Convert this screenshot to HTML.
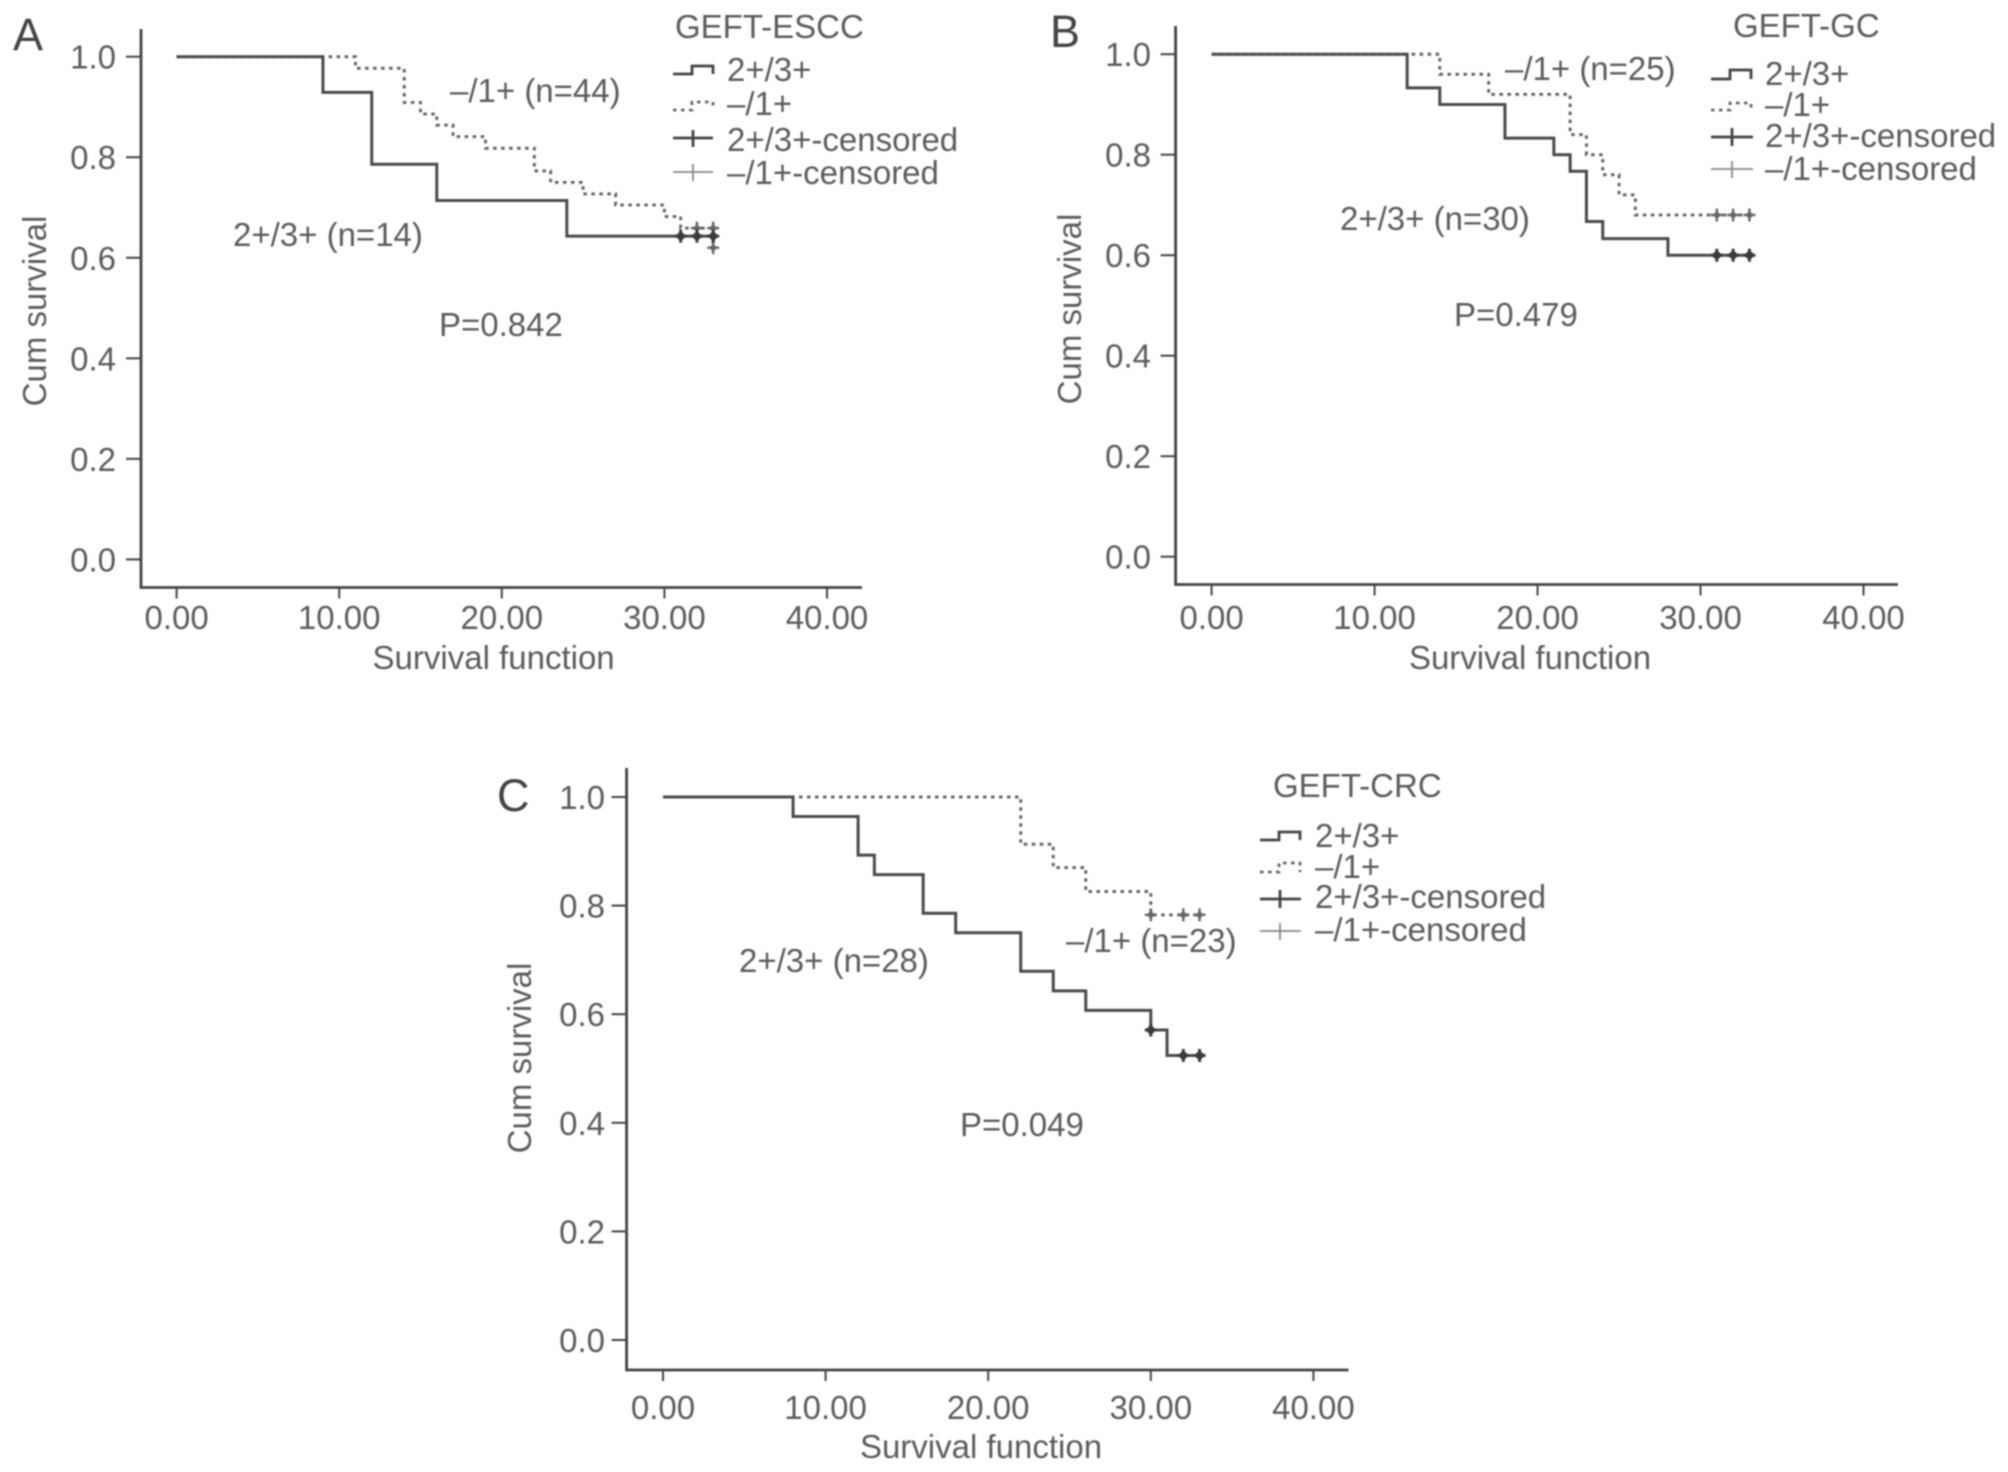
<!DOCTYPE html>
<html lang="en">
<head>
<meta charset="utf-8">
<title>GEFT survival curves</title>
<style>
html,body{margin:0;padding:0;background:#fff;}
svg{display:block;filter:blur(0.7px);}
text{font-family:"Liberation Sans",sans-serif;font-size:33px;fill:#5c5c5c;}
.letter{font-size:45px;fill:#444;}
.sym{fill:none;stroke:#444;stroke-width:2.8;}
.symd{fill:none;stroke:#666;stroke-width:2.8;stroke-dasharray:3.5 4.5;}
.syml{fill:none;stroke:#888;stroke-width:1.8;}
</style>
</head>
<body>
<svg id="fig" width="2008" height="1472" viewBox="0 0 2008 1472" xmlns="http://www.w3.org/2000/svg">
<rect width="2008" height="1472" fill="#fff"/>

<g id="panel-a">
  <text class="letter" x="13" y="50">A</text>
  <text x="493.6" y="669" text-anchor="middle">Survival function</text>
  <text transform="translate(46,311) rotate(-90)" text-anchor="middle">Cum survival</text>
  <text x="450" y="102">–/1+ (n=44)</text>
  <text x="233" y="246">2+/3+ (n=14)</text>
  <text x="439" y="336">P=0.842</text>
  <g>
    <text x="675" y="38">GEFT-ESCC</text>
    <path class="sym" d="M673 74H692V66H713V74"/>
    <text x="727" y="81">2+/3+</text>
    <path class="symd" d="M673 110H692V102H713V110"/>
    <text x="727" y="115">–/1+</text>
    <path class="sym" d="M673 138H713M693 130V147"/>
    <text x="727" y="151">2+/3+-censored</text>
    <path class="syml" d="M673 172H713M693 164V181"/>
    <text x="727" y="184">–/1+-censored</text>
  </g>
</g>

<g id="panel-b">
  <text class="letter" x="1050" y="47">B</text>
  <text x="1530" y="669" text-anchor="middle">Survival function</text>
  <text transform="translate(1081,309) rotate(-90)" text-anchor="middle">Cum survival</text>
  <text x="1505" y="80">–/1+ (n=25)</text>
  <text x="1340" y="230">2+/3+ (n=30)</text>
  <text x="1454" y="326">P=0.479</text>
  <g>
    <text x="1733" y="37">GEFT-GC</text>
    <path class="sym" d="M1711 79H1730V70H1751V79"/>
    <text x="1765" y="85">2+/3+</text>
    <path class="symd" d="M1711 110H1730V103H1751V110"/>
    <text x="1765" y="116">–/1+</text>
    <path class="sym" d="M1711 137H1753M1732 128V146"/>
    <text x="1765" y="147">2+/3+-censored</text>
    <path class="syml" d="M1711 169H1753M1732 161V178"/>
    <text x="1765" y="180">–/1+-censored</text>
  </g>
</g>

<g id="panel-c">
  <text class="letter" x="497" y="811">C</text>
  <text x="981" y="1458" text-anchor="middle">Survival function</text>
  <text transform="translate(531,1058) rotate(-90)" text-anchor="middle">Cum survival</text>
  <text x="1066" y="952">–/1+ (n=23)</text>
  <text x="739" y="972">2+/3+ (n=28)</text>
  <text x="960" y="1136">P=0.049</text>
  <g>
    <text x="1273" y="797">GEFT-CRC</text>
    <path class="sym" d="M1260 840H1279V832H1300V840"/>
    <text x="1315" y="847">2+/3+</text>
    <path class="symd" d="M1260 872H1279V863H1300V872"/>
    <text x="1315" y="878">–/1+</text>
    <path class="sym" d="M1260 899H1301M1280 890V908"/>
    <text x="1315" y="908">2+/3+-censored</text>
    <path class="syml" d="M1260 931H1301M1280 923V940"/>
    <text x="1315" y="941">–/1+-censored</text>
  </g>
</g>
</svg>

<script>
const xTickValues = [0, 10, 20, 30, 40];
const xTickLabels = ['0.00', '10.00', '20.00', '30.00', '40.00'];
const yTickValues = [0, 0.2, 0.4, 0.6, 0.8, 1.0];
const yTickLabels = ['0.0', '0.2', '0.4', '0.6', '0.8', '1.0'];

const esccHighTimes = [0, 9, 12, 16, 24, 33];
const esccHighSurvival = [1, 0.929, 0.786, 0.714, 0.643, 0.643];
const esccHighCensorTimes = [31, 32, 33];
const esccHighCensorSurvival = [0.643, 0.643, 0.643];
const esccLowTimes = [0, 11, 14, 15, 16, 17, 19, 22, 23, 25, 27, 30, 31, 33];
const esccLowSurvival = [1, 0.977, 0.909, 0.886, 0.864, 0.841, 0.818, 0.773, 0.75, 0.727, 0.705, 0.682, 0.659, 0.62];
const esccLowCensorTimes = [32, 33, 33];
const esccLowCensorSurvival = [0.659, 0.659, 0.62];

const gcHighTimes = [0, 12, 14, 18, 21, 22, 23, 24, 28, 33];
const gcHighSurvival = [1, 0.933, 0.9, 0.833, 0.8, 0.767, 0.667, 0.633, 0.6, 0.6];
const gcHighCensorTimes = [31, 32, 33];
const gcHighCensorSurvival = [0.6, 0.6, 0.6];
const gcLowTimes = [0, 14, 17, 22, 23, 24, 25, 26, 33];
const gcLowSurvival = [1, 0.96, 0.92, 0.84, 0.8, 0.76, 0.72, 0.68, 0.68];
const gcLowCensorTimes = [31, 32, 33];
const gcLowCensorSurvival = [0.68, 0.68, 0.68];

const crcHighTimes = [0, 8, 12, 13, 16, 18, 22, 24, 26, 30, 31, 33];
const crcHighSurvival = [1, 0.964, 0.893, 0.857, 0.786, 0.75, 0.679, 0.643, 0.607, 0.571, 0.524, 0.524];
const crcHighCensorTimes = [30, 32, 33];
const crcHighCensorSurvival = [0.571, 0.524, 0.524];
const crcLowTimes = [0, 22, 24, 26, 30, 33];
const crcLowSurvival = [1, 0.913, 0.87, 0.826, 0.783, 0.783];
const crcLowCensorTimes = [30, 32, 33];
const crcLowCensorSurvival = [0.783, 0.783, 0.783];

const panels = [
  { id: 'panel-a', key: 'a', x0: 176.6, x40: 827, y0: 559.4, y1: 56.7, left: 141, bottom: 587.5, right: 862, top: 29, labelX: 116, tickBase: 629,
    high: [esccHighTimes, esccHighSurvival, esccHighCensorTimes, esccHighCensorSurvival],
    low: [esccLowTimes, esccLowSurvival, esccLowCensorTimes, esccLowCensorSurvival] },
  { id: 'panel-b', key: 'b', x0: 1211.6, x40: 1863.5, y0: 556.7, y1: 54.2, left: 1175.6, bottom: 584.5, right: 1898, top: 26, labelX: 1151, tickBase: 629,
    high: [gcHighTimes, gcHighSurvival, gcHighCensorTimes, gcHighCensorSurvival],
    low: [gcLowTimes, gcLowSurvival, gcLowCensorTimes, gcLowCensorSurvival] },
  { id: 'panel-c', key: 'c', x0: 663, x40: 1313.4, y0: 1340, y1: 797, left: 626.6, bottom: 1370, right: 1348.5, top: 768, labelX: 605, tickBase: 1419,
    high: [crcHighTimes, crcHighSurvival, crcHighCensorTimes, crcHighCensorSurvival],
    low: [crcLowTimes, crcLowSurvival, crcLowCensorTimes, crcLowCensorSurvival] }
];

const NS = 'http://www.w3.org/2000/svg';
function make(tag, attrs, parent) {
  const el = document.createElementNS(NS, tag);
  for (const k in attrs) el.setAttribute(k, attrs[k]);
  parent.appendChild(el);
  return el;
}
function xScale(p, v) { return p.x0 + (p.x40 - p.x0) * v / 40; }
function yScale(p, v) { return p.y0 + (p.y1 - p.y0) * v; }

function stepPath(p, times, surv) {
  let d = 'M' + xScale(p, times[0]) + ' ' + yScale(p, surv[0]);
  for (let i = 1; i < times.length; i++) {
    d += 'H' + xScale(p, times[i]) + 'V' + yScale(p, surv[i]);
  }
  return d;
}

function drawAxes(p, g) {
  const axis = make('path', { d: 'M' + p.left + ' ' + p.top + 'V' + p.bottom + 'H' + p.right, fill: 'none', stroke: '#444', 'stroke-width': 2.8 }, g);
  
  
  xTickValues.forEach(function (v, i) {
    const x = xScale(p, v);
    const tick = make('line', { x1: x, x2: x, y1: p.bottom, y2: p.bottom + 11, stroke: '#444', 'stroke-width': 2 }, g);
    
    
    const label = make('text', { x: x, y: p.tickBase, 'text-anchor': 'middle' }, g);
    label.textContent = xTickLabels[i];
    
    
  });
  yTickValues.forEach(function (v, i) {
    const y = yScale(p, v);
    const tick = make('line', { x1: p.left - 15, x2: p.left, y1: y, y2: y, stroke: '#444', 'stroke-width': 2 }, g);
    
    
    const label = make('text', { x: p.labelX, y: y + 12, 'text-anchor': 'end' }, g);
    label.textContent = yTickLabels[i];
    
    
  });
}

function drawCensors(p, g, times, surv, color, width, radius, name) {
  times.forEach(function (t, i) {
    const x = xScale(p, t);
    const y = yScale(p, surv[i]);
    const mark = make('path', { d: 'M' + (x - 6) + ' ' + y + 'H' + (x + 6) + 'M' + x + ' ' + (y - 6.5) + 'V' + (y + 6.5), fill: 'none', stroke: color, 'stroke-width': width }, g);
    
    
    const blob = make('circle', { cx: x, cy: y, r: radius, fill: color }, g);
    
    
  });
}

function drawPanel(p) {
  const g = document.getElementById(p.id);
  drawAxes(p, g);
  const low = make('path', { d: stepPath(p, p.low[0], p.low[1]), fill: 'none', stroke: '#666', 'stroke-width': 3, 'stroke-dasharray': '3.5 4.5' }, g);
  
  
  drawCensors(p, g, p.low[2], p.low[3], '#666', 2.4, 3, 'censor-low');
  const high = make('path', { d: stepPath(p, p.high[0], p.high[1]), fill: 'none', stroke: '#4a4a4a', 'stroke-width': 3 }, g);
  
  
  drawCensors(p, g, p.high[2], p.high[3], '#3a3a3a', 3, 4, 'censor-high');
}

panels.forEach(drawPanel);
</script>
</body>
</html>
